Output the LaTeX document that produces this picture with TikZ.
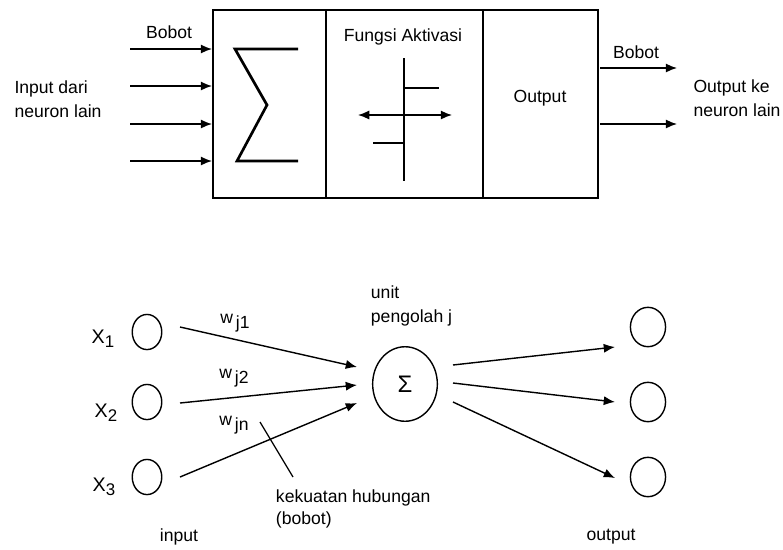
\documentclass[tikz,border=0pt]{standalone}
\usepackage{fontspec}
\setmainfont{Liberation Sans}
\usetikzlibrary{arrows.meta,shapes.geometric}

\begin{document}
\begin{tikzpicture}[x=0.025cm, y=-0.025cm,
    every node/.style={font=\fontsize{12.5}{17}\selectfont},
    arr/.style={-{Latex[length=8pt,width=6.5pt]}, line width=1pt},
    neuron/.style={ellipse, draw, line width=1pt, minimum width=21pt, minimum height=25pt, inner sep=0pt}]
    \useasboundingbox (0,0) rectangle (783,549);

    % block
    \draw[line width=1pt] (213,10) rectangle (598,198);
    \draw[line width=1pt] (326,10) -- (326,198);
    \draw[line width=1.8pt] (483,10) -- (483,198);

    % sum symbol
    \draw[line width=1.9pt, line join=miter] (298,49) -- (235,49) -- (267,105) -- (237,161) -- (298,161);

    % activation function
    \draw[line width=1pt] (404,58) -- (404,181);
    \draw[line width=1.9pt] (373,143) -- (404,143) -- (404,88) -- (439,88);
    \coordinate (actl) at (358,115);
    \coordinate (actr) at (452,115);
    \draw[arr, {Latex[length=8pt,width=6.5pt]}-{Latex[length=8pt,width=6.5pt]}] (actl) -- (actr);

    % block texts
    \node (bobotin) at (169,32) {Bobot};
    \node[align=left] (inputtxt) at (58,99) {Input dari\\neuron lain};
    \node (fungsi) at (403,37) {Fungsi Aktivasi};
    \node (outtxt) at (540,98) {Output};
    \node (bobotout) at (636,52) {Bobot};
    \node[align=left] (outputtxt) at (737,98) {Output ke\\neuron lain};

    % block arrows
    \coordinate (a1) at (130,49);  \coordinate (b1) at (212,49);
    \coordinate (a2) at (130,86);  \coordinate (b2) at (212,86);
    \coordinate (a3) at (130,124); \coordinate (b3) at (212,124);
    \coordinate (a4) at (130,161); \coordinate (b4) at (212,161);
    \draw[arr] (a1) -- (b1);
    \draw[arr] (a2) -- (b2);
    \draw[arr] (a3) -- (b3);
    \draw[arr] (a4) -- (b4);
    \coordinate (c1) at (600,68);  \coordinate (d1) at (677,68);
    \coordinate (c2) at (600,124); \coordinate (d2) at (677,124);
    \draw[arr] (c1) -- (d1);
    \draw[arr] (c2) -- (d2);

    % neurons
    \node[neuron] (x1) at (147,332) {};
    \node[neuron] (x2) at (147,402) {};
    \node[neuron] (x3) at (147,477) {};
    \node[neuron, minimum width=46pt, minimum height=53pt, font=\fontsize{17}{19}\selectfont] (sum) at (405,384) {Σ};
    \node[neuron, minimum width=25pt, minimum height=28pt] (y1) at (648,327) {};
    \node[neuron, minimum width=25pt, minimum height=28pt] (y2) at (648,402) {};
    \node[neuron, minimum width=25pt, minimum height=28pt] (y3) at (648,477) {};

    % neuron texts
    \node[font=\fontsize{14}{16}\selectfont] (lx1) at (103,339) {X\raisebox{-3pt}{\fontsize{12}{14}\selectfont 1}};
    \node[font=\fontsize{14}{16}\selectfont] (lx2) at (106,413) {X\raisebox{-3pt}{\fontsize{12}{14}\selectfont 2}};
    \node[font=\fontsize{14}{16}\selectfont] (lx3) at (104,487) {X\raisebox{-3pt}{\fontsize{12}{14}\selectfont 3}};
    \node (w1) at (235,323) {w\,\raisebox{-4pt}{j1}};
    \node (w2) at (234,378) {w\,\raisebox{-4pt}{j2}};
    \node (wn) at (234,425) {w\,\raisebox{-4pt}{jn}};
    \node[align=left, anchor=west] (unit) at (366,306) {unit\\pengolah j};
    \node[align=left, anchor=west, font=\fontsize{12.5}{15.5}\selectfont] (kekuatan) at (271,509) {kekuatan hubungan\\(bobot)};
    \node (input) at (179,537) {input};
    \node (output) at (611,537) {output};

    % connections
    \coordinate (t1) at (180,327); \coordinate (h1) at (357,367);
    \coordinate (t2) at (180,403); \coordinate (h2) at (357,385);
    \coordinate (t3) at (180,477); \coordinate (h3) at (357,403);
    \draw[arr] (t1) -- (h1);
    \draw[arr] (t2) -- (h2);
    \draw[arr] (t3) -- (h3);
    \coordinate (o1) at (453,365); \coordinate (e1) at (615,347);
    \coordinate (o2) at (453,383); \coordinate (e2) at (615,402);
    \coordinate (o3) at (453,402); \coordinate (e3) at (615,478);
    \draw[arr] (o1) -- (e1);
    \draw[arr] (o2) -- (e2);
    \draw[arr] (o3) -- (e3);

    % pointer
    \coordinate (p1) at (260,422);
    \coordinate (p2) at (293,477);
    \draw[line width=0.9pt] (p1) -- (p2);
\end{tikzpicture}
\end{document}
